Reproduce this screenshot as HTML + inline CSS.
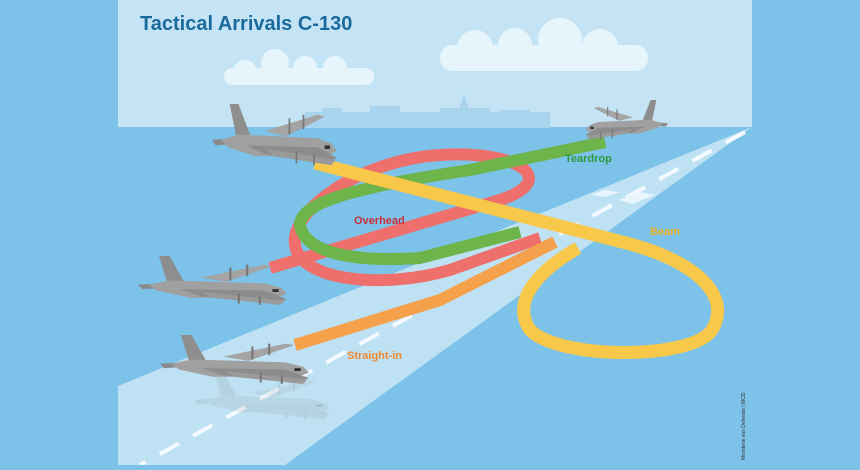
<!DOCTYPE html>
<html><head><style>body{margin:0;width:860px;height:465px;overflow:hidden;background:#7dc2e8}</style></head><body>
<svg width="860" height="465" viewBox="0 0 860 465" font-family="Liberation Sans, sans-serif">
<defs>
<g id="pl">
<polygon points="20,0 30,0 44,36 28,38" fill="#8e8e8e"/>
<polygon points="0,40 46,36 50,42 4,46" fill="#8a8a8a"/>
<polygon points="60,30 120,12 128,14 84,36" fill="#a4a4a4"/>
<polygon points="10,40 30,34 120,38 136,44 142,52 132,58 50,58 18,48" fill="#a0a0a0"/>
<polygon points="40,46 120,48 142,60 132,64 60,56" fill="#8c8c8c"/>
<polygon points="62,50 140,62 136,68 70,58" fill="#9a9a9a"/>
<g stroke="#777" stroke-width="2"><line x1="88" y1="16" x2="88" y2="34"/><line x1="104" y1="12" x2="104" y2="28"/><line x1="96" y1="52" x2="96" y2="66"/><line x1="116" y1="56" x2="116" y2="68"/></g>
<rect x="128" y="46" width="6" height="4" fill="#333"/>
</g>
</defs>
<rect width="860" height="465" fill="#7dc2e8"/>
<rect x="118" y="0" width="634" height="127" fill="#c4e4f6"/>
<rect x="118" y="127" width="634" height="338" fill="#7cc2e9"/>
<g fill="#e6f4fc">
<rect x="224" y="68" width="150" height="17" rx="8"/>
<circle cx="245" cy="72" r="12"/><circle cx="275" cy="63" r="14"/><circle cx="305" cy="68" r="12"/><circle cx="335" cy="68" r="12"/>
<rect x="440" y="45" width="208" height="26" rx="12"/>
<circle cx="475" cy="48" r="18"/><circle cx="515" cy="45" r="17"/><circle cx="560" cy="40" r="22"/><circle cx="600" cy="47" r="18"/>
</g>
<g fill="#a9d4ee">
<rect x="305" y="112" width="245" height="16"/>
<rect x="322" y="108" width="20" height="8"/><rect x="370" y="106" width="30" height="10"/>
<rect x="460" y="104" width="8" height="10"/><polygon points="461,104 467,104 464,94"/>
<rect x="440" y="108" width="50" height="6"/><rect x="500" y="110" width="30" height="4"/>
</g>
<polygon points="752,127 118,386 118,465 285,465" fill="#bee2f4"/>
<g stroke="#f4faff" stroke-width="4" stroke-dasharray="22 16"><line x1="745" y1="132" x2="140" y2="465"/></g>
<g fill="#e8f5fc"><polygon points="590,195 605,190 620,192 605,197"/><polygon points="618,200 640,192 655,195 632,204"/></g>
<g opacity="0.18" transform="translate(195,372) scale(0.95,0.7)"><use href="#pl"/></g>
<g fill="none" stroke-linecap="butt" stroke-linejoin="round">
<path d="M270,268 L500,200 C560,180 520,150 440,155 C360,160 290,210 295,245 C300,280 380,290 450,270 L540,238" stroke="#ef6f6c" stroke-width="12"/>
<path d="M605,142 L470,170 C370,185 300,200 300,225 C305,255 360,262 420,258 L520,232" stroke="#6db44b" stroke-width="12"/>
<path d="M315,163 L630,244 C705,265 730,300 712,330 C692,360 560,360 530,330 C510,300 540,270 578,248" stroke="#f8c84a" stroke-width="13"/>
<path d="M295,345 L440,300 L555,242" stroke="#f5a04a" stroke-width="12"/>
</g>
<use href="#pl" transform="translate(212,104) scale(0.88,0.9)"/>
<use href="#pl" transform="translate(138,256) scale(1.05,0.72)"/>
<use href="#pl" transform="translate(160,335) scale(1.05,0.72)"/>
<use href="#pl" transform="translate(668,100) scale(-0.58,0.58)"/>
<text x="140" y="30" font-size="20" font-weight="bold" fill="#1a6a9c">Tactical Arrivals C-130</text>
<g font-size="11" font-weight="bold">
<text x="565" y="162" fill="#2d9a3a">Teardrop</text>
<text x="354" y="224" fill="#cc2d3a">Overhead</text>
<text x="650" y="235" fill="#f0b429">Beam</text>
<text x="347" y="359" fill="#f08a30">Straight-in</text>
</g>
<text transform="translate(745,460) rotate(-90)" font-size="5" fill="#333">Ministerie van Defensie | MCD</text>
</svg>
</body></html>
